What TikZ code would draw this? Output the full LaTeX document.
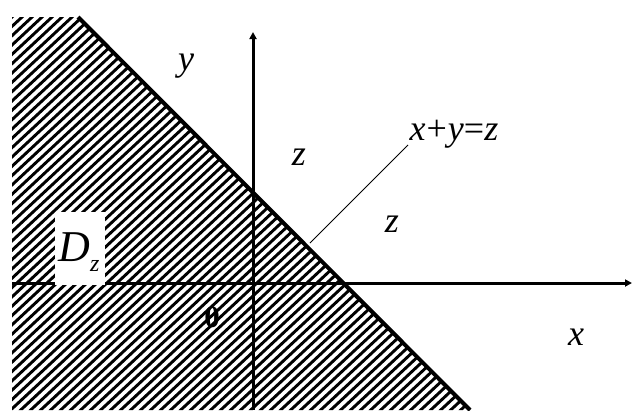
\documentclass[tikz,border=0pt]{standalone}
\usepackage{fontspec}
\setmainfont{Liberation Serif}
\usetikzlibrary{arrows.meta}
\tikzset{
  hatchline/.style={line width=2.9pt, line cap=butt},
  axisline/.style={line width=3pt, -{Triangle[length=7pt,width=7pt]}},
  boundline/.style={line width=4pt},
  leader/.style={line width=0.8pt},
  lbl/.style={inner sep=0pt, font=\fontsize{36}{40}\selectfont\itshape},
}
\begin{document}
\begin{tikzpicture}[x=1pt,y=-1pt]
\useasboundingbox (0,0) rectangle (632,410);
% hatched half plane
\begin{scope}
  \clip (12,17) -- (78,17) -- (470,410) -- (12,410) -- cycle;
  \foreach \k in {-48,...,50} {
    \draw[hatchline] ({\k*10},420) -- ({\k*10+461},-10);
  }
\end{scope}
% boundary line
\coordinate (btop) at (78,17);
\coordinate (bbot) at (470,410);
\draw[boundline] (btop) -- (bbot);
% axes
\coordinate (xs) at (12,283);
\coordinate (xe) at (632,283);
\coordinate (ys) at (253,410);
\coordinate (ye) at (253,32);
\draw[axisline] (xs) -- (xe);
\draw[axisline] (ys) -- (ye);
% white box for D_z
\fill[white] (55,212) rectangle (105,285);
\node[inner sep=0pt, font=\fontsize{44}{48}\selectfont\itshape] (dz) at (79,252)
  {D\raisebox{-0.22em}{\fontsize{24}{24}\selectfont z}};
% labels
\node[lbl] (ly) at (186,66) {y};
\node[lbl] (lz1) at (299,157) {z};
\node[lbl] (lz2) at (392,224) {z};
\node[lbl] (lx) at (576,337) {x};
\node[inner sep=0pt, font=\fontsize{31}{34}\selectfont\bfseries] (lo) at (212,317) {0};
\node[inner sep=0pt, font=\fontsize{36}{40}\selectfont] (eq) at (454,134)
  {\textit{x}\kern1pt+\kern1pt\textit{y}=\textit{z}};
% leader line
\coordinate (leadA) at (310,243);
\coordinate (leadB) at (408,145);
\draw[leader] (leadA) -- (leadB);
\end{tikzpicture}
\end{document}
